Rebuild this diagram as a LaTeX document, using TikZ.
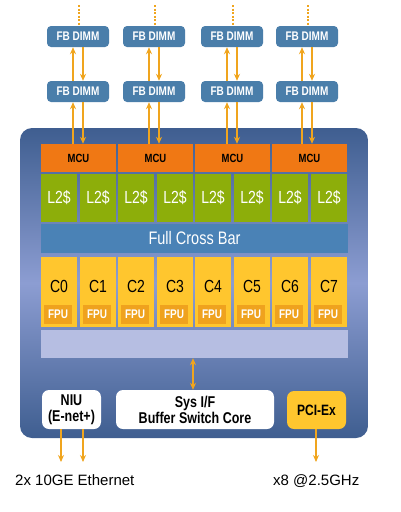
\documentclass[tikz,border=0pt]{standalone}
\usepackage{fontspec}
\setmainfont{Liberation Sans}
\usetikzlibrary{arrows.meta}
\definecolor{fbblue}{HTML}{4A7EAA}
\definecolor{mcuorange}{HTML}{F07814}
\definecolor{lgreen}{HTML}{8DAE0A}
\definecolor{xbarblue}{HTML}{4A82B6}
\definecolor{coreyellow}{HTML}{FFC62E}
\definecolor{fpuorange}{HTML}{EFA21E}
\definecolor{lightbar}{HTML}{B6BEE2}
\definecolor{arrcol}{HTML}{F0A51E}
\definecolor{paneldark}{HTML}{3F5E90}
\definecolor{panellight}{HTML}{8C9DD2}
\newcommand\tallt[1]{\scalebox{1}[1.25]{#1}}
\tikzset{
  fb/.style={rounded corners=4pt, fill=fbblue, text=white, inner sep=0pt,
    minimum width=62pt, minimum height=21pt, font=\fontsize{10}{10}\selectfont\bfseries},
  mcu/.style={fill=mcuorange, text=black, inner sep=0pt, minimum width=75pt, minimum height=28pt,
    font=\fontsize{9.5}{10}\selectfont\bfseries},
  l2/.style={fill=lgreen, text=white, inner sep=0pt, minimum width=36pt, minimum height=48pt,
    font=\fontsize{14}{14}\selectfont},
  core/.style={fill=coreyellow, inner sep=0pt, minimum width=36pt, minimum height=70pt},
  clabel/.style={inner sep=0pt, text=black, font=\fontsize{14}{14}\selectfont},
  fpu/.style={fill=fpuorange, text=white, inner sep=0pt, minimum width=28pt, minimum height=19pt,
    font=\fontsize{10}{10}\selectfont\bfseries},
  wide/.style={inner sep=0pt, minimum width=307pt},
  iobox/.style={rounded corners=7pt, inner sep=0pt, align=center, text=black,
    font=\fontsize{12.5}{16}\selectfont\bfseries},
  arr/.style={draw=arrcol, line width=1.8pt, -{Stealth[length=7pt,width=6pt]}},
  darr/.style={draw=arrcol, line width=1.8pt, {Stealth[length=7pt,width=6pt]}-{Stealth[length=7pt,width=6pt]}},
  dots/.style={draw=arrcol, line width=2pt, dash pattern=on 2pt off 1.5pt},
  caption/.style={anchor=base west, inner sep=0pt, text=black, font=\fontsize{15}{15}\selectfont}
}
\begin{document}
\begin{tikzpicture}[x=1pt,y=-1pt]
\useasboundingbox (0,0) rectangle (401,512);
\fill[white] (0,0) rectangle (401,512);

% main panel
\node[rounded corners=12pt, top color=paneldark, bottom color=paneldark, middle color=panellight,
  minimum width=348pt, minimum height=310pt, inner sep=0pt] (panel) at (194,283) {};

% FB DIMMs
\foreach \x [count=\i] in {78,154,232,307} {
  \node[fb] (t\i) at (\x,36.5) {\tallt{FB DIMM}};
  \node[fb] (b\i) at (\x,91.5) {\tallt{FB DIMM}};
  \coordinate (d\i) at (\x+1,5);
  \draw[dots] (d\i) -- (d\i |- t\i.north);
  \draw[arr] ([xshift=-5pt]b\i.north) -- ([xshift=-5pt]t\i.south);
  \draw[arr] ([xshift=5pt]t\i.south) -- ([xshift=5pt]b\i.north);
}

% MCU, L2, cores
\foreach \i in {1,...,4} {
  \pgfmathsetmacro{\xo}{41+77*(\i-1)}
  \pgfmathtruncatemacro{\ca}{2*(\i-1)}
  \pgfmathtruncatemacro{\cb}{2*(\i-1)+1}
  \node[mcu] (m\i) at (\xo+37.5,158) {\tallt{MCU}};
  \node[l2] (la\i) at (\xo+18,198) {\tallt{L2\$}};
  \node[l2] (lb\i) at (\xo+57,198) {\tallt{L2\$}};
  \node[core] (ca\i) at (\xo+18,292) {};
  \node[core] (cb\i) at (\xo+57,292) {};
  \node[clabel] (cla\i) at (\xo+18,286) {\tallt{C\ca}};
  \node[clabel] (clb\i) at (\xo+57,286) {\tallt{C\cb}};
  \node[fpu] (fa\i) at (\xo+17,314.5) {\tallt{FPU}};
  \node[fpu] (fb\i) at (\xo+56,314.5) {\tallt{FPU}};
  \draw[arr] ([xshift=-5pt]b\i.south |- m\i.north) -- ([xshift=-5pt]b\i.south);
  \draw[arr] ([xshift=5pt]b\i.south) -- ([xshift=5pt]b\i.south |- m\i.north);
}

% crossbar and light bar
\node[wide, fill=xbarblue, text=white, minimum height=29pt, font=\fontsize{14.5}{15}\selectfont]
  (xbar) at (194.5,238.5) {\tallt{Full Cross Bar}};
\node[wide, fill=lightbar, minimum height=28pt] (lbar) at (194.5,344) {};

% I/O boxes
\node[iobox, fill=white, minimum width=59pt, minimum height=39pt] (niu) at (71.5,409.5)
  {\tallt{NIU}\\\tallt{(E-net+)}};
\node[iobox, fill=white, minimum width=158pt, minimum height=39pt] (sys) at (195,409.5)
  {\tallt{Sys I/F}\\\tallt{Buffer Switch Core}};
\node[iobox, fill=coreyellow, minimum width=59pt, minimum height=38pt, font=\fontsize{12}{15}\selectfont\bfseries]
  (pci) at (316.5,410) {\tallt{PCI-Ex}};

\draw[darr] ([xshift=-2pt]sys.north |- lbar.south) -- ([xshift=-2pt]sys.north);

% outgoing arrows
\coordinate (e1) at (61,462);
\coordinate (e2) at (83,462);
\coordinate (e3) at (316,462);
\draw[arr] (niu.south -| e1) -- (e1);
\draw[arr] (niu.south -| e2) -- (e2);
\draw[arr] (pci.south -| e3) -- (e3);

% captions
\node[caption] (eth) at (15,485) {2x 10GE Ethernet};
\node[caption] (pcie) at (273,485) {x8 @2.5GHz};
\end{tikzpicture}
\end{document}
